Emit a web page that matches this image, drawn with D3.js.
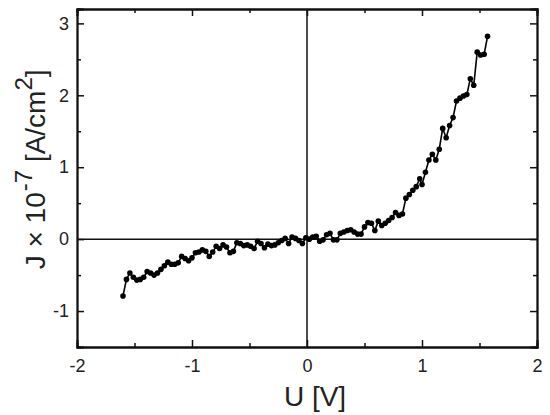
<!DOCTYPE html>
<html><head><meta charset="utf-8">
<script src="https://cdn.jsdelivr.net/npm/d3@7"></script>
<style>body{margin:0;background:#fff}svg{display:block}text{font-family:"Liberation Sans",Arial,sans-serif;fill:#222}</style>
</head><body>
<script>
const voltage = [-1.60,-1.57,-1.54,-1.51,-1.48,-1.45,-1.42,-1.39,-1.36,-1.33,-1.30,-1.27,-1.24,-1.21,-1.18,-1.15,-1.12,-1.09,-1.06,-1.03,-1.00,-0.97,-0.94,-0.91,-0.88,-0.85,-0.82,-0.79,-0.76,-0.73,-0.70,-0.67,-0.64,-0.61,-0.58,-0.55,-0.52,-0.49,-0.46,-0.43,-0.40,-0.37,-0.34,-0.31,-0.28,-0.25,-0.22,-0.19,-0.16,-0.13,-0.10,-0.07,-0.04,-0.01,0.02,0.05,0.08,0.11,0.14,0.17,0.20,0.23,0.26,0.29,0.32,0.35,0.38,0.41,0.44,0.47,0.50,0.53,0.56,0.59,0.62,0.65,0.68,0.71,0.74,0.77,0.80,0.83,0.86,0.89,0.92,0.95,0.98,1.00,1.03,1.06,1.09,1.12,1.15,1.18,1.21,1.24,1.27,1.30,1.33,1.36,1.39,1.42,1.45,1.48,1.51,1.54,1.57];
const current = [-0.79,-0.56,-0.47,-0.53,-0.57,-0.56,-0.53,-0.45,-0.47,-0.50,-0.47,-0.42,-0.37,-0.32,-0.35,-0.35,-0.33,-0.24,-0.27,-0.30,-0.26,-0.19,-0.18,-0.15,-0.17,-0.24,-0.18,-0.10,-0.13,-0.08,-0.11,-0.19,-0.17,-0.05,-0.06,-0.09,-0.08,-0.10,-0.13,-0.03,-0.06,-0.12,-0.07,-0.09,-0.08,-0.05,-0.02,0.01,-0.06,0.03,0.01,-0.02,-0.06,0.02,0.00,0.03,0.04,-0.03,-0.01,0.06,0.08,-0.01,-0.01,0.08,0.10,0.12,0.13,0.10,0.07,0.07,0.17,0.23,0.22,0.12,0.25,0.19,0.22,0.26,0.30,0.37,0.33,0.35,0.57,0.62,0.68,0.73,0.84,0.76,0.93,1.10,1.18,1.10,1.25,1.54,1.41,1.58,1.69,1.92,1.96,1.99,2.01,2.23,2.14,2.60,2.56,2.57,2.82];
const xTicks = [-2,-1,0,1,2];
const yTicks = [-1,0,1,2,3];
const xMinor = [-1.5,-0.5,0.5,1.5];
const yMinor = [-0.5,0.5,1.5,2.5];

const W=550,H=415;
const svg=d3.select("body").append("svg").attr("width",W).attr("height",H);
const x=d3.scaleLinear().domain([-2,2]).range([77,537]);
const y=d3.scaleLinear().domain([-1.5,3.2]).range([347,9]);

// zero lines
svg.append("line").attr("x1",x(-2)).attr("x2",x(2)).attr("y1",y(0)).attr("y2",y(0)).attr("stroke","#111").attr("stroke-width",1.5);
svg.append("line").attr("x1",x(0)).attr("x2",x(0)).attr("y1",y(-1.5)).attr("y2",y(3.2)).attr("stroke","#111").attr("stroke-width",1.5);

const tickFmt = d => d<0 ? "-"+Math.abs(d) : String(d);
svg.append("g").attr("transform",`translate(0,${y(-1.5)})`)
  .call(d3.axisBottom(x).tickValues(xTicks).tickSize(-7).tickPadding(12).tickFormat(tickFmt));
svg.append("g").attr("transform",`translate(0,${y(-1.5)})`)
  .call(d3.axisBottom(x).tickValues(xMinor).tickSize(-4).tickFormat(""));
svg.append("g").attr("transform",`translate(0,${y(3.2)})`)
  .call(d3.axisTop(x).tickValues(xTicks).tickSize(-7).tickFormat(""));
svg.append("g").attr("transform",`translate(0,${y(3.2)})`)
  .call(d3.axisTop(x).tickValues(xMinor).tickSize(-4).tickFormat(""));
svg.append("g").attr("transform",`translate(${x(-2)},0)`)
  .call(d3.axisLeft(y).tickValues(yTicks).tickSize(-7).tickPadding(8).tickFormat(tickFmt));
svg.append("g").attr("transform",`translate(${x(-2)},0)`)
  .call(d3.axisLeft(y).tickValues(yMinor).tickSize(-4).tickFormat(""));
svg.append("g").attr("transform",`translate(${x(2)},0)`)
  .call(d3.axisRight(y).tickValues(yTicks).tickSize(-7).tickFormat(""));
svg.append("g").attr("transform",`translate(${x(2)},0)`)
  .call(d3.axisRight(y).tickValues(yMinor).tickSize(-4).tickFormat(""));
svg.selectAll(".domain").attr("stroke","#111").attr("stroke-width",1.8);
svg.selectAll(".tick line").attr("stroke","#111").attr("stroke-width",1.5);
svg.selectAll(".tick text").attr("font-size",18).attr("fill","#222").attr("font-family","Liberation Sans, Arial, sans-serif");

// data
const pts=voltage.map((v,i)=>[v,current[i]]);
svg.append("path").datum(pts).attr("fill","none").attr("stroke","#000").attr("stroke-width",1.6)
  .attr("d",d3.line().x(d=>x(d[0])).y(d=>y(d[1])));
svg.append("g").selectAll("circle").data(pts).join("circle")
  .attr("cx",d=>x(d[0])).attr("cy",d=>y(d[1])).attr("r",2.8).attr("fill","#000");

// titles
svg.append("text").attr("x",x(0)+8).attr("y",406).attr("text-anchor","middle").attr("font-size",28).text("U [V]");
const yt=svg.append("text").attr("transform",`translate(45,${y(0.97)}) rotate(-90)`).attr("text-anchor","middle").attr("font-size",28);
yt.append("tspan").text("J \u00d7 10");
yt.append("tspan").attr("dy",-13).attr("dx",1).attr("font-size",24).text("-7");
yt.append("tspan").attr("dy",13).text(" [A/cm");
yt.append("tspan").attr("dy",-13).attr("font-size",24).text("2");
yt.append("tspan").attr("dy",13).text("]");
</script>
</body></html>
